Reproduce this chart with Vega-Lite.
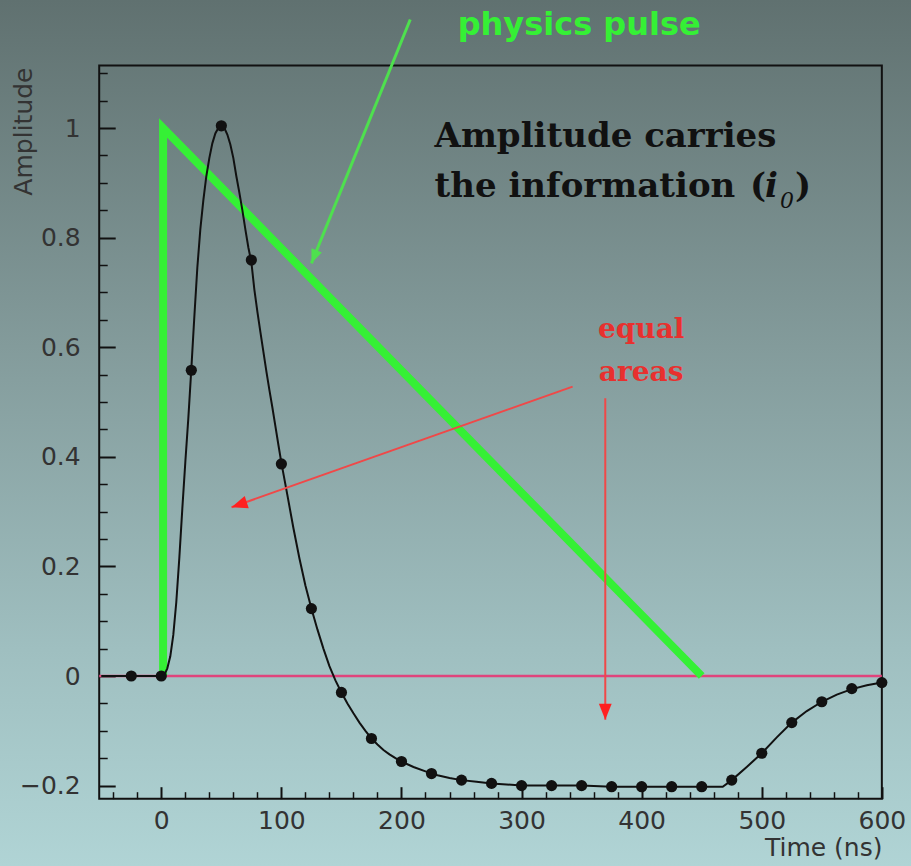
{
  "$schema": "https://vega.github.io/schema/vega-lite/v6.json",
  "width": 911,
  "height": 866,
  "autosize": {"type": "none"},
  "padding": 0,
  "background": "#8aa6a7",
  "config": {
    "view": {"stroke": null, "fill": {"gradient": "linear", "x1": 0, "y1": 0, "x2": 0, "y2": 1, "stops": [{"offset": 0, "color": "#607170"}, {"offset": 0.4, "color": "#839b9b"}, {"offset": 0.75, "color": "#9fbfc0"}, {"offset": 1, "color": "#b0d4d5"}]}},
    "axis": {"grid": false, "domain": false, "tickColor": "#111111", "labelFont": "DejaVu Sans", "labelFontSize": 25, "labelColor": "#333333", "titleFont": "DejaVu Sans", "titleFontSize": 25, "titleFontWeight": "normal", "titleColor": "#333333"}
  },
  "datasets": {
    "curve": [
      {"t": -50, "a": 0}, {"t": -25, "a": 0}, {"t": 0, "a": 0}, {"t": 2.5, "a": 0.002}, {"t": 5, "a": 0.014}, {"t": 7.5, "a": 0.036}, {"t": 10, "a": 0.075}, {"t": 12.5, "a": 0.135}, {"t": 15, "a": 0.215}, {"t": 17.5, "a": 0.305}, {"t": 20, "a": 0.39}, {"t": 22.5, "a": 0.47}, {"t": 25, "a": 0.56}, {"t": 27.5, "a": 0.655}, {"t": 30, "a": 0.745}, {"t": 32.5, "a": 0.815}, {"t": 35, "a": 0.868}, {"t": 37.5, "a": 0.912}, {"t": 40, "a": 0.945}, {"t": 42.5, "a": 0.972}, {"t": 45, "a": 0.99}, {"t": 47.5, "a": 1.0}, {"t": 50, "a": 1.004}, {"t": 52.5, "a": 1.0}, {"t": 55, "a": 0.988}, {"t": 57.5, "a": 0.97}, {"t": 60, "a": 0.945}, {"t": 62.5, "a": 0.912}, {"t": 65, "a": 0.882}, {"t": 67.5, "a": 0.85}, {"t": 70, "a": 0.815}, {"t": 72.5, "a": 0.782}, {"t": 75, "a": 0.755}, {"t": 77.5, "a": 0.705}, {"t": 80, "a": 0.665}, {"t": 82.5, "a": 0.628}, {"t": 85, "a": 0.592}, {"t": 87.5, "a": 0.556}, {"t": 90, "a": 0.522}, {"t": 92.5, "a": 0.49}, {"t": 95, "a": 0.456}, {"t": 97.5, "a": 0.422}, {"t": 100, "a": 0.389}, {"t": 105, "a": 0.33}, {"t": 110, "a": 0.27}, {"t": 115, "a": 0.215}, {"t": 120, "a": 0.165}, {"t": 125, "a": 0.123}, {"t": 130, "a": 0.085}, {"t": 135, "a": 0.05}, {"t": 140, "a": 0.018}, {"t": 145, "a": -0.008}, {"t": 150, "a": -0.03}, {"t": 155, "a": -0.05}, {"t": 160, "a": -0.068}, {"t": 165, "a": -0.085}, {"t": 170, "a": -0.1}, {"t": 175, "a": -0.114}, {"t": 180, "a": -0.125}, {"t": 185, "a": -0.135}, {"t": 190, "a": -0.143}, {"t": 195, "a": -0.15}, {"t": 200, "a": -0.156}, {"t": 210, "a": -0.166}, {"t": 220, "a": -0.174}, {"t": 225, "a": -0.178}, {"t": 230, "a": -0.181}, {"t": 240, "a": -0.186}, {"t": 250, "a": -0.19}, {"t": 262.5, "a": -0.193}, {"t": 275, "a": -0.196}, {"t": 287.5, "a": -0.198}, {"t": 300, "a": -0.2}, {"t": 325, "a": -0.2}, {"t": 350, "a": -0.2}, {"t": 375, "a": -0.202}, {"t": 400, "a": -0.202}, {"t": 425, "a": -0.202}, {"t": 450, "a": -0.202}, {"t": 467.5, "a": -0.202}, {"t": 475, "a": -0.19}, {"t": 487.5, "a": -0.166}, {"t": 500, "a": -0.141}, {"t": 512.5, "a": -0.112}, {"t": 525, "a": -0.085}, {"t": 537.5, "a": -0.064}, {"t": 550, "a": -0.047}, {"t": 562.5, "a": -0.034}, {"t": 575, "a": -0.024}, {"t": 587.5, "a": -0.017}, {"t": 600, "a": -0.012}
    ],
    "dots": [
      {"t": -25, "a": 0}, {"t": 0, "a": 0}, {"t": 25, "a": 0.558}, {"t": 50, "a": 1.004}, {"t": 75, "a": 0.759}, {"t": 100, "a": 0.387}, {"t": 125, "a": 0.123}, {"t": 150, "a": -0.03}, {"t": 175, "a": -0.114}, {"t": 200, "a": -0.156}, {"t": 225, "a": -0.178}, {"t": 250, "a": -0.19}, {"t": 275, "a": -0.196}, {"t": 300, "a": -0.2}, {"t": 325, "a": -0.2}, {"t": 350, "a": -0.2}, {"t": 375, "a": -0.202}, {"t": 400, "a": -0.202}, {"t": 425, "a": -0.202}, {"t": 450, "a": -0.202}, {"t": 475, "a": -0.19}, {"t": 500, "a": -0.141}, {"t": 525, "a": -0.085}, {"t": 550, "a": -0.047}, {"t": 575, "a": -0.023}, {"t": 600, "a": -0.012}
    ],
    "pulse": [
      {"k": 1, "t": 1.5, "a": 0}, {"k": 2, "t": 1.5, "a": 1}, {"k": 3, "t": 450, "a": 0}
    ],
    "arrows": [
      {"kind": "red1", "t1": 342.5, "a1": 0.528, "t2": 58.5, "a2": 0.308},
      {"kind": "red2", "t1": 369.7, "a1": 0.507, "t2": 369.7, "a2": -0.08},
      {"kind": "green", "t1": 207.3, "a1": 1.198, "t2": 125, "a2": 0.753}
    ],
    "texts": [
      {"g": "main", "t": 227.5, "a": 0.966, "label": "Amplitude carries"},
      {"g": "main", "t": 227.5, "a": 0.8735, "label": "the information"},
      {"g": "main", "t": 490.2, "a": 0.8735, "label": "("},
      {"g": "ital", "t": 502.7, "a": 0.8735, "label": "i"},
      {"g": "sub", "t": 515.1, "a": 0.854, "label": "0"},
      {"g": "main", "t": 527.6, "a": 0.8735, "label": ")"},
      {"g": "red", "t": 399.6, "a": 0.617, "label": "equal"},
      {"g": "red", "t": 399.6, "a": 0.538, "label": "areas"},
      {"g": "green", "t": 348, "a": 1.1697, "label": "physics pulse"}
    ]
  },
  "layer": [
    {
      "data": {"values": [{}]},
      "mark": {"type": "rect", "filled": false, "stroke": "#111111", "strokeWidth": 2},
      "encoding": {
        "x": {"datum": -51.7, "type": "quantitative", "scale": {"domain": [-134.31, 624.28], "nice": false, "zero": false}, "axis": null},
        "x2": {"datum": 600},
        "y": {"datum": -0.224, "type": "quantitative", "scale": {"domain": [-0.34671, 1.23358], "nice": false, "zero": false}, "axis": null},
        "y2": {"datum": 1.114}
      }
    },
    {
      "data": {"values": [{}]},
      "mark": {"type": "rule", "color": "#e0447c", "strokeWidth": 2.5},
      "encoding": {
        "x": {"datum": -51.7, "type": "quantitative", "axis": {"orient": "bottom", "offset": -67.3, "values": [-40, -20, 20, 40, 60, 80, 120, 140, 160, 180, 220, 240, 260, 280, 320, 340, 360, 380, 420, 440, 460, 480, 520, 540, 560, 580], "tickSize": -7, "tickWidth": 1.5, "labels": false, "title": null}},
        "x2": {"datum": 600},
        "y": {"datum": 0, "type": "quantitative", "axis": {"orient": "left", "offset": -99.2, "values": [-0.15, -0.1, -0.05, 0.05, 0.1, 0.15, 0.25, 0.3, 0.35, 0.45, 0.5, 0.55, 0.65, 0.7, 0.75, 0.85, 0.9, 0.95, 1.05, 1.1], "tickSize": -8, "tickWidth": 1.5, "labels": false, "title": null}}
      }
    },
    {
      "data": {"name": "pulse"},
      "mark": {"type": "line", "color": "#35f035", "strokeWidth": 8, "strokeJoin": "miter", "strokeCap": "butt"},
      "encoding": {
        "x": {"field": "t", "type": "quantitative", "axis": null},
        "y": {"field": "a", "type": "quantitative", "axis": null},
        "order": {"field": "k"}
      }
    },
    {
      "data": {"name": "curve"},
      "mark": {"type": "line", "color": "#111111", "strokeWidth": 2},
      "encoding": {
        "x": {"field": "t", "type": "quantitative", "axis": {"orient": "bottom", "offset": -67.3, "values": [0, 100, 200, 300, 400, 500, 600], "tickSize": -12, "tickWidth": 2, "labelPadding": 22, "format": "d", "title": "Time (ns)", "titleX": 882, "titleY": 57, "titleAlign": "right", "titleBaseline": "alphabetic", "titleAnchor": "end"}},
        "y": {"field": "a", "type": "quantitative", "axis": {"orient": "left", "offset": -99.2, "values": [-0.2, 0, 0.2, 0.4, 0.6, 0.8, 1], "tickSize": -16, "tickWidth": 2, "labelPadding": 35, "format": "~g", "title": "Amplitude", "titleX": -76, "titleY": 67, "titleAlign": "right", "titleBaseline": "middle", "titleAngle": 270}}
      }
    },
    {
      "data": {"name": "dots"},
      "mark": {"type": "point", "filled": true, "color": "#111111", "size": 125, "opacity": 1},
      "encoding": {
        "x": {"field": "t", "type": "quantitative", "axis": null},
        "y": {"field": "a", "type": "quantitative", "axis": null}
      }
    },
    {
      "data": {"name": "arrows"},
      "transform": [{"filter": "datum.kind !== 'green'"}],
      "mark": {"type": "rule", "color": "#f04848", "strokeWidth": 2},
      "encoding": {
        "x": {"field": "t1", "type": "quantitative", "axis": null},
        "y": {"field": "a1", "type": "quantitative", "axis": null},
        "x2": {"field": "t2"},
        "y2": {"field": "a2"}
      }
    },
    {
      "data": {"name": "arrows"},
      "transform": [{"filter": "datum.kind === 'green'"}],
      "mark": {"type": "rule", "color": "#4ee04e", "strokeWidth": 3},
      "encoding": {
        "x": {"field": "t1", "type": "quantitative", "axis": null},
        "y": {"field": "a1", "type": "quantitative", "axis": null},
        "x2": {"field": "t2"},
        "y2": {"field": "a2"}
      }
    },
    {
      "data": {"name": "arrows"},
      "transform": [{"filter": "datum.kind === 'red1'"}],
      "mark": {"type": "point", "filled": true, "color": "#ff2020", "opacity": 1, "size": 256, "shape": "M0,0L-0.8,2L0.8,2Z", "angle": 251.6},
      "encoding": {
        "x": {"field": "t2", "type": "quantitative", "axis": null},
        "y": {"field": "a2", "type": "quantitative", "axis": null}
      }
    },
    {
      "data": {"name": "arrows"},
      "transform": [{"filter": "datum.kind === 'red2'"}],
      "mark": {"type": "point", "filled": true, "color": "#ff2020", "opacity": 1, "size": 256, "shape": "M0,0L-0.8,2L0.8,2Z", "angle": 180},
      "encoding": {
        "x": {"field": "t2", "type": "quantitative", "axis": null},
        "y": {"field": "a2", "type": "quantitative", "axis": null}
      }
    },
    {
      "data": {"name": "arrows"},
      "transform": [{"filter": "datum.kind === 'green'"}],
      "mark": {"type": "point", "filled": true, "color": "#4ee04e", "opacity": 1, "size": 196, "shape": "M0,0L-0.8,2L0.8,2Z", "angle": 202.1},
      "encoding": {
        "x": {"field": "t2", "type": "quantitative", "axis": null},
        "y": {"field": "a2", "type": "quantitative", "axis": null}
      }
    },
    {
      "data": {"name": "texts"},
      "transform": [{"filter": "datum.g === 'main'"}],
      "mark": {"type": "text", "font": "DejaVu Serif", "fontWeight": "bold", "fontSize": 34, "color": "#111111", "align": "left", "baseline": "alphabetic"},
      "encoding": {
        "x": {"field": "t", "type": "quantitative", "axis": null},
        "y": {"field": "a", "type": "quantitative", "axis": null},
        "text": {"field": "label"}
      }
    },
    {
      "data": {"name": "texts"},
      "transform": [{"filter": "datum.g === 'ital'"}],
      "mark": {"type": "text", "font": "DejaVu Serif", "fontWeight": "bold", "fontStyle": "italic", "fontSize": 34, "color": "#111111", "align": "left", "baseline": "alphabetic"},
      "encoding": {
        "x": {"field": "t", "type": "quantitative", "axis": null},
        "y": {"field": "a", "type": "quantitative", "axis": null},
        "text": {"field": "label"}
      }
    },
    {
      "data": {"name": "texts"},
      "transform": [{"filter": "datum.g === 'sub'"}],
      "mark": {"type": "text", "font": "DejaVu Serif", "fontStyle": "italic", "fontSize": 22, "color": "#111111", "align": "left", "baseline": "alphabetic"},
      "encoding": {
        "x": {"field": "t", "type": "quantitative", "axis": null},
        "y": {"field": "a", "type": "quantitative", "axis": null},
        "text": {"field": "label"}
      }
    },
    {
      "data": {"name": "texts"},
      "transform": [{"filter": "datum.g === 'red'"}],
      "mark": {"type": "text", "font": "DejaVu Serif", "fontWeight": "bold", "fontSize": 28, "color": "#e8302e", "align": "center", "baseline": "alphabetic"},
      "encoding": {
        "x": {"field": "t", "type": "quantitative", "axis": null},
        "y": {"field": "a", "type": "quantitative", "axis": null},
        "text": {"field": "label"}
      }
    },
    {
      "data": {"name": "texts"},
      "transform": [{"filter": "datum.g === 'green'"}],
      "mark": {"type": "text", "font": "DejaVu Sans", "fontWeight": "bold", "fontSize": 32, "color": "#35f035", "align": "center", "baseline": "alphabetic"},
      "encoding": {
        "x": {"field": "t", "type": "quantitative", "axis": null},
        "y": {"field": "a", "type": "quantitative", "axis": null},
        "text": {"field": "label"}
      }
    }
  ],
  "resolve": {"axis": {"x": "independent", "y": "independent"}}
}
